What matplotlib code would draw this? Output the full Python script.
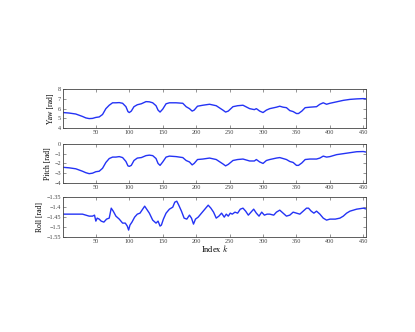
import numpy as np
import matplotlib
matplotlib.use('Agg')
from matplotlib import pyplot as plt

plt.rcParams['font.family'] = 'Liberation Serif'
plt.rcParams['mathtext.fontset'] = 'cm'

# yaw / pitch sampled at the same indices
k_yp = [1,10,20,30,35,40,45,50,55,60,65,70,75,80,85,90,95,98,100,103,107,112,118,125,130,135,140,143,146,150,
        155,160,170,180,185,190,194,197,202,210,220,230,240,244,248,255,262,270,280,287,290,295,300,305,310,320,
        325,330,335,340,345,350,353,358,363,370,380,385,390,395,400,410,420,430,440,450,455]
yaw = [5.6,5.55,5.45,5.2,5.05,4.98,5.0,5.1,5.15,5.4,6.0,6.35,6.6,6.6,6.62,6.55,6.2,5.7,5.6,5.75,6.2,6.4,6.5,6.72,6.7,
       6.6,6.3,5.85,5.65,5.95,6.5,6.6,6.6,6.55,6.2,6.0,5.75,5.85,6.25,6.35,6.45,6.3,5.85,5.65,5.75,6.2,6.3,6.35,6.0,
       5.9,6.0,5.75,5.6,5.85,6.0,6.15,6.25,6.15,6.1,5.8,5.7,5.5,5.5,5.75,6.1,6.15,6.2,6.45,6.6,6.45,6.55,6.7,6.85,
       6.95,7.0,7.03,7.0]
pitch = [-2.4,-2.45,-2.55,-2.8,-2.95,-3.05,-3.0,-2.85,-2.8,-2.5,-1.9,-1.5,-1.35,-1.35,-1.3,-1.4,-1.8,-2.25,-2.3,-2.2,
         -1.7,-1.45,-1.4,-1.2,-1.15,-1.2,-1.5,-2.0,-2.2,-1.85,-1.35,-1.25,-1.3,-1.4,-1.7,-1.85,-2.15,-2.0,-1.6,-1.55,
         -1.45,-1.6,-2.05,-2.25,-2.1,-1.7,-1.6,-1.55,-1.75,-1.75,-1.6,-1.85,-2.0,-1.7,-1.6,-1.45,-1.4,-1.5,-1.6,-1.8,
         -1.9,-2.2,-2.2,-1.95,-1.6,-1.55,-1.55,-1.45,-1.25,-1.35,-1.3,-1.1,-1.0,-0.9,-0.8,-0.78,-0.85]

k_roll = [1,10,20,30,35,40,45,48,50,52,55,58,62,66,70,73,76,80,85,90,94,97,99,101,104,108,112,116,120,123,126,130,135,
          140,143,146,148,151,155,160,165,168,171,174,178,182,186,190,193,196,199,203,208,213,218,222,226,230,234,238,
          242,245,248,251,254,258,262,266,270,274,278,282,286,290,294,298,302,306,310,316,320,325,330,335,340,345,350,
          355,360,365,368,372,376,380,385,390,395,400,408,415,420,425,430,440,450,455]
roll = [-1.435,-1.435,-1.435,-1.435,-1.44,-1.445,-1.445,-1.44,-1.47,-1.455,-1.46,-1.47,-1.475,-1.46,-1.455,-1.405,-1.42,
        -1.445,-1.46,-1.48,-1.48,-1.495,-1.515,-1.49,-1.475,-1.45,-1.435,-1.43,-1.41,-1.395,-1.41,-1.43,-1.465,-1.48,
        -1.47,-1.495,-1.49,-1.46,-1.43,-1.41,-1.4,-1.375,-1.37,-1.39,-1.42,-1.455,-1.46,-1.44,-1.455,-1.485,-1.46,-1.45,
        -1.43,-1.41,-1.39,-1.405,-1.425,-1.455,-1.445,-1.43,-1.45,-1.435,-1.445,-1.43,-1.435,-1.425,-1.43,-1.41,-1.405,
        -1.42,-1.44,-1.425,-1.41,-1.43,-1.445,-1.425,-1.44,-1.435,-1.435,-1.44,-1.425,-1.415,-1.43,-1.445,-1.44,-1.425,
        -1.43,-1.435,-1.42,-1.405,-1.405,-1.42,-1.43,-1.42,-1.435,-1.455,-1.465,-1.46,-1.46,-1.455,-1.445,-1.43,-1.42,
        -1.41,-1.405,-1.41]

xticks = [50,100,150,200,250,300,350,400,450]
panels = [
    ('Yaw [rad]', k_yp, yaw, [4,5,6,7,8], ['4','5','6','7','8'], (4,8)),
    ('Pitch [rad]', k_yp, pitch, [-4,-3,-2,-1,0], ['\u22124','\u22123','\u22122','\u22121','0'], (-4,0)),
    ('Roll [rad]', k_roll, roll, [-1.55,-1.5,-1.45,-1.4,-1.35],
     ['\u22121.55','\u22121.5','\u22121.45','\u22121.4','\u22121.35'], (-1.55,-1.35)),
]
boxes = [[0.152,0.614,0.730,0.1175], [0.152,0.449,0.730,0.1175], [0.152,0.286,0.730,0.12]]

fig = plt.figure(figsize=(4.15,3.32), dpi=100)
for (lab, kx, vals, yt, ytl, ylim), box in zip(panels, boxes):
    ax = fig.add_axes(box)
    ax.plot(kx, vals, color='#2433f5', lw=1.0)
    ax.set_xlim(1, 454)
    ax.set_ylim(*ylim)
    ax.set_xticks(xticks)
    ax.set_xticklabels([str(t) for t in xticks])
    ax.set_yticks(yt)
    ax.set_yticklabels(ytl)
    ax.tick_params(direction='in', length=2, width=0.4, labelsize=4.5, pad=1.5,
                   top=True, right=True, colors='#444444')
    for s in ax.spines.values():
        s.set_linewidth(0.6)
        s.set_color('#444444')
    ax.set_ylabel(lab, fontsize=5.5, labelpad=2)
ax.set_xlabel('Index $k$', fontsize=6, labelpad=-1)

fig.savefig('out.png', dpi=100)
